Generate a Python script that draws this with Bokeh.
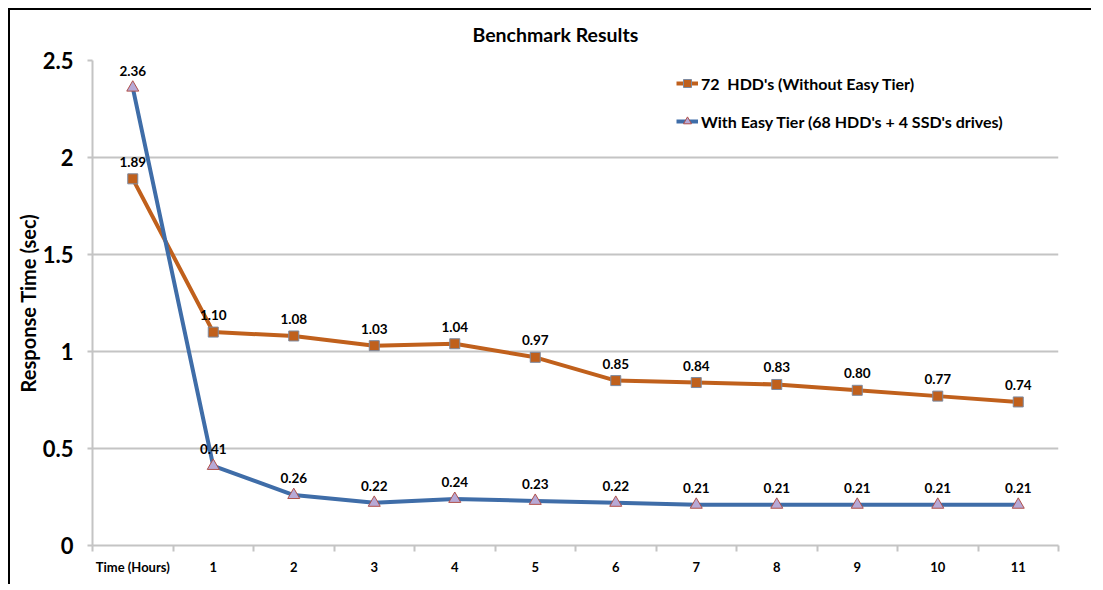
from bokeh.plotting import figure
from bokeh.models import Range1d, FixedTicker, NumeralTickFormatter, ColumnDataSource, Legend, LegendItem
from bokeh.core.properties import value
from bokeh.embed import file_html
from bokeh.resources import INLINE

categories = ["Time (Hours)", "1", "2", "3", "4", "5", "6", "7", "8", "9", "10", "11"]
hdd_values = [1.89, 1.10, 1.08, 1.03, 1.04, 0.97, 0.85, 0.84, 0.83, 0.80, 0.77, 0.74]
easy_values = [2.36, 0.41, 0.26, 0.22, 0.24, 0.23, 0.22, 0.21, 0.21, 0.21, 0.21, 0.21]
hdd_name = "72  HDD's (Without Easy Tier)"
easy_name = "With Easy Tier (68 HDD's + 4 SSD's drives)"
y_ticks = [0, 0.5, 1, 1.5, 2, 2.5]

FONT = "Lato"
ORANGE = "#c0601c"
BLUE = "#3f6da8"
GRID = "#c4c4c4"

xs = [i + 0.5 for i in range(len(categories))]
src_h = ColumnDataSource(dict(x=xs, y=hdd_values, t=["%.2f" % v for v in hdd_values]))
src_e = ColumnDataSource(dict(x=xs, y=easy_values, t=["%.2f" % v for v in easy_values]))

p = figure(width=1083, height=576, output_backend="svg", toolbar_location=None,
           x_range=Range1d(0, len(categories)), y_range=Range1d(0, 2.5),
           min_border_left=82, min_border_right=35, min_border_top=50, min_border_bottom=41,
           background_fill_color="white", border_fill_color="white",
           title="Benchmark Results")
p.styles = {"border-top": "2px solid black", "border-left": "2px solid black",
            "margin-top": "8px", "margin-left": "8px"}
p.outline_line_color = None

p.title.align = "left"
p.title.offset = 380
p.title.text_font = FONT
p.title.text_font_size = "19.5px"
p.title.text_font_style = "bold"
p.title.text_color = "black"
p.title.standoff = 25
p.title.vertical_align = "top"

# x axis
p.xaxis.ticker = FixedTicker(ticks=xs, minor_ticks=list(range(len(categories) + 1)))
p.xaxis.major_label_overrides = {x: c for x, c in zip(xs, categories)}
p.xaxis.major_tick_line_color = None
p.xaxis.major_tick_out = 0
p.xaxis.major_tick_in = 0
p.xaxis.minor_tick_line_color = GRID
p.xaxis.minor_tick_line_width = 2
p.xaxis.minor_tick_out = 6
p.xaxis.minor_tick_in = 0
p.xaxis.axis_line_color = GRID
p.xaxis.axis_line_width = 2
p.xaxis.major_label_standoff = 7
p.xaxis.major_label_text_font = FONT
p.xaxis.major_label_text_font_size = "13px"
p.xaxis.major_label_text_font_style = "bold"
p.xaxis.major_label_text_color = "black"

# y axis
p.yaxis.ticker = FixedTicker(ticks=y_ticks, minor_ticks=[])
p.yaxis.formatter = NumeralTickFormatter(format="0.[0]")
p.yaxis.axis_line_color = GRID
p.yaxis.axis_line_width = 2
p.yaxis.major_tick_line_color = GRID
p.yaxis.major_tick_line_width = 2
p.yaxis.major_tick_out = 5
p.yaxis.major_tick_in = 0
p.yaxis.minor_tick_line_color = None
p.yaxis.major_label_standoff = 14
p.yaxis.major_label_text_font = FONT
p.yaxis.major_label_text_font_size = "22px"
p.yaxis.major_label_text_font_style = "bold"
p.yaxis.major_label_text_color = "black"
p.yaxis.axis_label = "Response Time (sec)"
p.yaxis.axis_label_text_font = FONT
p.yaxis.axis_label_text_font_size = "20px"
p.yaxis.axis_label_text_font_style = "bold"
p.yaxis.axis_label_text_color = "black"
p.yaxis.axis_label_standoff = 0

p.xgrid.grid_line_color = None
p.ygrid.ticker = FixedTicker(ticks=y_ticks)
p.ygrid.grid_line_color = GRID
p.ygrid.grid_line_width = 2

l1 = p.line("x", "y", source=src_h, line_color=ORANGE, line_width=4)
m1 = p.scatter("x", "y", source=src_h, marker="square", size=10,
               fill_color=ORANGE, line_color="#7d8aa0", line_width=1)
l2 = p.line("x", "y", source=src_e, line_color=BLUE, line_width=4)
m2 = p.scatter("x", "y", source=src_e, marker="triangle", size=12,
               fill_color="#b7a9d6", line_color="#b0504a", line_width=1)

for src in (src_h, src_e):
    p.text("x", "y", text="t", source=src, text_align="center", text_baseline="bottom",
           y_offset=-12, text_font=value(FONT), text_font_size="13.5px",
           text_font_style="bold", text_color="black")

legend = Legend(items=[LegendItem(label=hdd_name, renderers=[l1, m1]),
                       LegendItem(label=easy_name, renderers=[l2, m2])],
                location=(584, 414), orientation="vertical",
                background_fill_alpha=0, border_line_color=None,
                label_text_font=FONT, label_text_font_size="16px",
                label_text_font_style="bold", label_text_color="black",
                glyph_width=22, glyph_height=20, label_height=20, spacing=18,
                padding=5, label_standoff=3, margin=0)
p.add_layout(legend, "center")

open("out.html", "w").write(file_html(p, INLINE))
